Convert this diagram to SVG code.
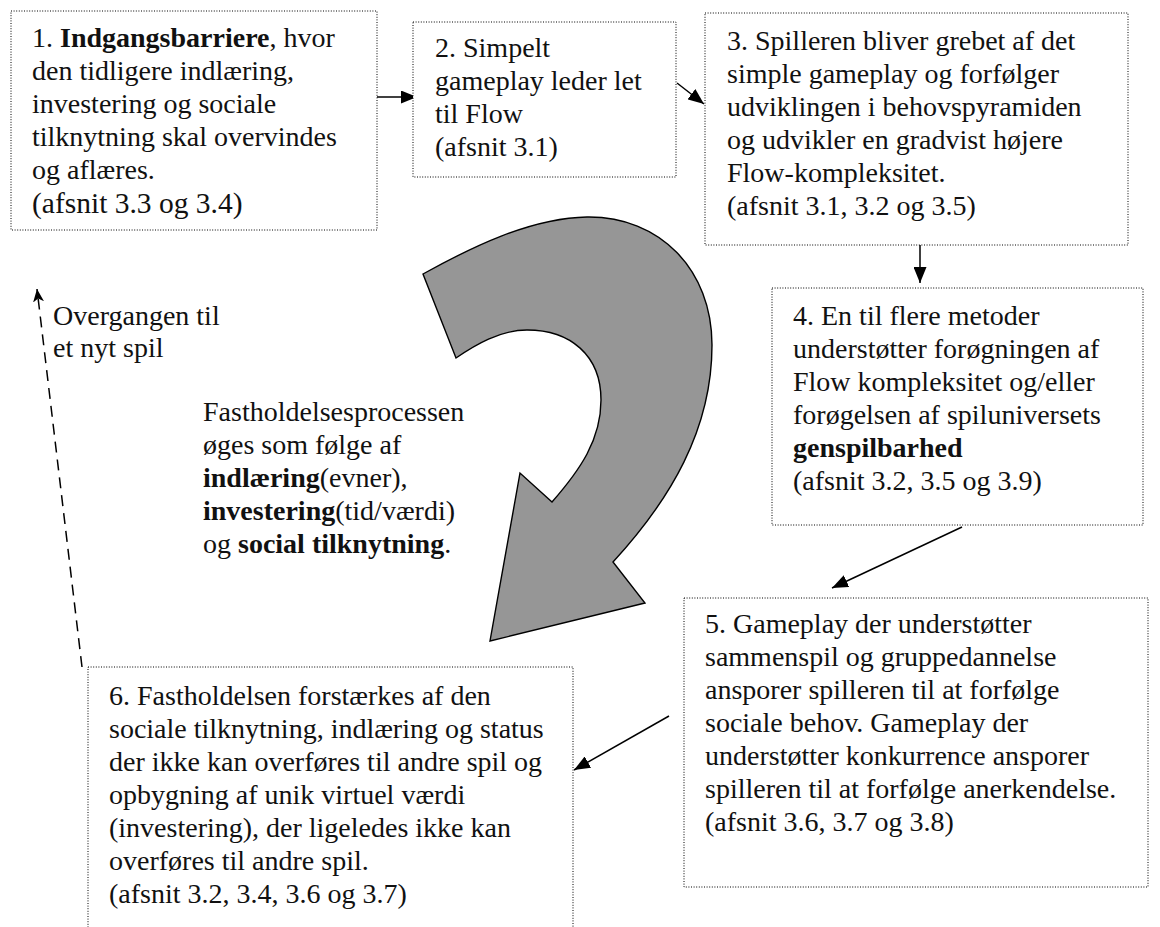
<svg xmlns="http://www.w3.org/2000/svg" width="1160" height="927" viewBox="0 0 1160 927">
  <style>
    .box { fill: #ffffff; stroke: #000000; stroke-width: 1; stroke-dasharray: 1 1.6; }
    .txt { font-family: 'Liberation Serif', 'DejaVu Serif', serif; font-size: 28px; fill: #111111; }
    .b { font-weight: bold; }
    .conn { fill: none; stroke: #000000; stroke-width: 1.5; }
    .dash { fill: none; stroke: #000000; stroke-width: 1.5; stroke-dasharray: 11 7; }
    .swirl { fill: #969696; stroke: #000000; stroke-width: 1.4; stroke-linejoin: miter; }
  </style>
  <defs>
    <marker id="head" markerUnits="userSpaceOnUse" markerWidth="17" markerHeight="13" refX="16" refY="6.5" orient="auto">
      <path d="M0,0 L16,6.5 L0,13 z" fill="#000000"/>
    </marker>
    <marker id="stealth" markerUnits="userSpaceOnUse" markerWidth="14" markerHeight="11" refX="13" refY="5.5" orient="auto">
      <path d="M0,0 L13,5.5 L0,11 L3.5,5.5 z" fill="#000000"/>
    </marker>
  </defs>

  <rect width="1160" height="927" fill="#ffffff"/>

  <!-- large curved process arrow -->
  <g id="cycle-arrow">
    <path class="swirl" d="M423,274 C470,248 530,218 587,217 C660,216 712,270 712,345 C712,430 670,500 613,562 L645,603 L490,641 L520,473 L552,502 C580,470 601,440 601,400 C601,355 570,330 527,330 C500,330 475,345 456,358 Z"/>
  </g>

  <g id="connectors">
    <line class="conn" x1="377" y1="97" x2="417" y2="97" marker-end="url(#head)"/>
    <line class="conn" x1="677" y1="83" x2="704" y2="104" marker-end="url(#head)"/>
    <line class="conn" x1="920" y1="245" x2="920" y2="283" marker-end="url(#head)"/>
    <line class="conn" x1="962" y1="527" x2="832" y2="588" marker-end="url(#head)"/>
    <line class="conn" x1="669" y1="716" x2="574" y2="770" marker-end="url(#head)"/>
    <line class="dash" x1="82" y1="667" x2="37" y2="289" marker-end="url(#stealth)"/>
  </g>

  <g id="step1">
    <rect class="box" x="11" y="11" width="366" height="219"/>
    <text class="txt" x="32" y="47">1. <tspan class="b">Indgangsbarriere</tspan>, hvor</text>
    <text class="txt" x="32" y="80">den tidligere indlæring,</text>
    <text class="txt" x="32" y="113">investering og sociale</text>
    <text class="txt" x="32" y="146">tilknytning skal overvindes</text>
    <text class="txt" x="32" y="179">og aflæres.</text>
    <text class="txt" x="32" y="213" style="font-size:29.5px">(afsnit 3.3 og 3.4)</text>
  </g>

  <g id="step2">
    <rect class="box" x="413" y="22" width="263" height="155"/>
    <text class="txt" x="435" y="57">2. Simpelt</text>
    <text class="txt" x="435" y="90">gameplay leder let</text>
    <text class="txt" x="435" y="123">til Flow</text>
    <text class="txt" x="435" y="156">(afsnit 3.1)</text>
  </g>

  <g id="step3">
    <rect class="box" x="705" y="13" width="423" height="232"/>
    <text class="txt" x="727" y="50">3. Spilleren bliver grebet af det</text>
    <text class="txt" x="727" y="83">simple gameplay og forfølger</text>
    <text class="txt" x="727" y="116">udviklingen i behovspyramiden</text>
    <text class="txt" x="727" y="149">og udvikler en gradvist højere</text>
    <text class="txt" x="727" y="182">Flow-kompleksitet.</text>
    <text class="txt" x="727" y="215">(afsnit 3.1, 3.2 og 3.5)</text>
  </g>

  <g id="step4">
    <rect class="box" x="772" y="288" width="371" height="237"/>
    <text class="txt" x="793" y="325">4. En til flere metoder</text>
    <text class="txt" x="793" y="358">understøtter forøgningen af</text>
    <text class="txt" x="793" y="391">Flow kompleksitet og/eller</text>
    <text class="txt" x="793" y="424">forøgelsen af spiluniversets</text>
    <text class="txt b" x="793" y="457">genspilbarhed</text>
    <text class="txt" x="793" y="490">(afsnit 3.2, 3.5 og 3.9)</text>
  </g>

  <g id="step5">
    <rect class="box" x="684" y="598" width="464" height="289"/>
    <text class="txt" x="705" y="633">5. Gameplay der understøtter</text>
    <text class="txt" x="705" y="666">sammenspil og gruppedannelse</text>
    <text class="txt" x="705" y="699">ansporer spilleren til at forfølge</text>
    <text class="txt" x="705" y="732">sociale behov. Gameplay der</text>
    <text class="txt" x="705" y="765">understøtter konkurrence ansporer</text>
    <text class="txt" x="705" y="798">spilleren til at forfølge anerkendelse.</text>
    <text class="txt" x="705" y="831">(afsnit 3.6, 3.7 og 3.8)</text>
  </g>

  <g id="step6">
    <rect class="box" x="88" y="667" width="485" height="290"/>
    <text class="txt" x="109" y="705">6. Fastholdelsen forstærkes af den</text>
    <text class="txt" x="109" y="738">sociale tilknytning, indlæring og status</text>
    <text class="txt" x="109" y="771">der ikke kan overføres til andre spil og</text>
    <text class="txt" x="109" y="804">opbygning af unik virtuel værdi</text>
    <text class="txt" x="109" y="837">(investering), der ligeledes ikke kan</text>
    <text class="txt" x="109" y="870">overføres til andre spil.</text>
    <text class="txt" x="109" y="903">(afsnit 3.2, 3.4, 3.6 og 3.7)</text>
  </g>

  <g id="transition-label">
    <text class="txt" x="53" y="325">Overgangen til</text>
    <text class="txt" x="53" y="357">et nyt spil</text>
  </g>

  <g id="retention-label">
    <text class="txt" x="203" y="421">Fastholdelsesprocessen</text>
    <text class="txt" x="203" y="454">øges som følge af</text>
    <text class="txt" x="203" y="487"><tspan class="b">indlæring</tspan>(evner),</text>
    <text class="txt" x="203" y="520"><tspan class="b">investering</tspan>(tid/værdi)</text>
    <text class="txt" x="203" y="553">og <tspan class="b">social tilknytning</tspan>.</text>
  </g>
</svg>
